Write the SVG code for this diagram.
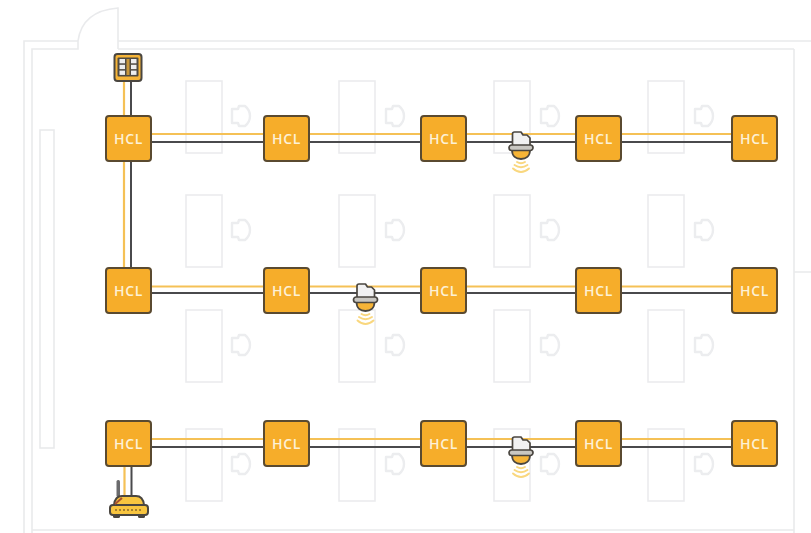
<svg xmlns="http://www.w3.org/2000/svg" width="811" height="533" viewBox="0 0 811 533">
<defs>
<style>
.wall{fill:none;stroke:#e9eaec;stroke-width:1.6}
.desk{fill:#fff;fill-opacity:.6;stroke:#ebecee;stroke-width:1.6}
.chair{fill:none;stroke:#ecedef;stroke-width:2.4;stroke-linejoin:round}
.y{fill:none;stroke:#f5c156;stroke-width:2.2}
.d{fill:none;stroke:#4a4a4c;stroke-width:2}
.box{fill:#f6ad2a;stroke:#5a4a30;stroke-width:2}
.lbl{font-family:"Open Sans","Liberation Sans",sans-serif;font-size:14px;font-weight:600;letter-spacing:.6px;fill:#fdf1d6;text-anchor:middle}
.wave{fill:none;stroke:#f9d77e;stroke-width:1.9;stroke-linecap:round}
.ol{stroke:#4a4640;stroke-width:2;stroke-linejoin:round}
</style>
<g id="chair"><path class="chair" d="M2 5H8L9 2H15Q20 6 20 12Q20 18 15 22H9L8 19H2Z"/></g>
<g id="sensor">
<path d="M-8.500 -3V-15Q-8.500 -17 -6.500 -17H0L2 -14H6L9 -11V-3Z" fill="#f1f1f2" stroke="#4a4640" stroke-width="1.700" stroke-linejoin="round"/>
<path d="M-9 1C-9 7 -5 10 0 10C5 10 9 7 9 1Z" fill="#f6b437" stroke="#4a4640" stroke-width="1.800"/>
<rect x="-12" y="-4" width="24" height="5.500" rx="2.700" fill="#c9c7c2" stroke="#4a4640" stroke-width="1.700"/>
<path class="wave" d="M-4 13Q0 15.500 4 13M-6.500 16Q0 20.500 6.500 16M-8 19.500Q0 26.500 8 19.500"/>
</g>
</defs>
<rect width="811" height="533" fill="#fff"/>
<g id="plan">
<path class="wall" d="M78 41H24V533M32 533V49H78V41"/>
<path class="wall" d="M118 41H811M118 49H794M32 530H794M794 49V533M794 272H811"/>
<path class="wall" d="M78 41Q82 11 118 8V49"/>
<rect class="wall" x="40" y="130" width="14" height="318"/>
<rect class="desk" x="186" y="81" width="36" height="72"/><rect class="desk" x="339" y="81" width="36" height="72"/><rect class="desk" x="494" y="81" width="36" height="72"/><rect class="desk" x="648" y="81" width="36" height="72"/>
<rect class="desk" x="186" y="195" width="36" height="72"/><rect class="desk" x="339" y="195" width="36" height="72"/><rect class="desk" x="494" y="195" width="36" height="72"/><rect class="desk" x="648" y="195" width="36" height="72"/>
<rect class="desk" x="186" y="310" width="36" height="72"/><rect class="desk" x="339" y="310" width="36" height="72"/><rect class="desk" x="494" y="310" width="36" height="72"/><rect class="desk" x="648" y="310" width="36" height="72"/>
<rect class="desk" x="186" y="429" width="36" height="72"/><rect class="desk" x="339" y="429" width="36" height="72"/><rect class="desk" x="494" y="429" width="36" height="72"/><rect class="desk" x="648" y="429" width="36" height="72"/>
<use href="#chair" x="230" y="104"/><use href="#chair" x="384" y="104"/><use href="#chair" x="539" y="104"/><use href="#chair" x="693" y="104"/>
<use href="#chair" x="230" y="218"/><use href="#chair" x="384" y="218"/><use href="#chair" x="539" y="218"/><use href="#chair" x="693" y="218"/>
<use href="#chair" x="230" y="333"/><use href="#chair" x="384" y="333"/><use href="#chair" x="539" y="333"/><use href="#chair" x="693" y="333"/>
<use href="#chair" x="230" y="452"/><use href="#chair" x="384" y="452"/><use href="#chair" x="539" y="452"/><use href="#chair" x="693" y="452"/>
</g>
<g id="connectors">
<path class="y" d="M124 80V116M124 161V267M124.500 466V498"/>
<path class="d" d="M131 80V116M131 161V267M131.500 466V498"/>
<path class="y" d="M151 134H732M151 286.500H732M151 439H732"/>
<path class="d" d="M151 142H732M151 293H732M151 447H732"/>
</g>
<g id="hcl-1-1"><rect class="box" x="106" y="116" width="45" height="45" rx="3"/><text class="lbl" x="128.500" y="143.500">HCL</text></g>
<g id="hcl-1-2"><rect class="box" x="264" y="116" width="45" height="45" rx="3"/><text class="lbl" x="286.500" y="143.500">HCL</text></g>
<g id="hcl-1-3"><rect class="box" x="421" y="116" width="45" height="45" rx="3"/><text class="lbl" x="443.500" y="143.500">HCL</text></g>
<g id="hcl-1-4"><rect class="box" x="576" y="116" width="45" height="45" rx="3"/><text class="lbl" x="598.500" y="143.500">HCL</text></g>
<g id="hcl-1-5"><rect class="box" x="732" y="116" width="45" height="45" rx="3"/><text class="lbl" x="754.500" y="143.500">HCL</text></g>
<g id="hcl-2-1"><rect class="box" x="106" y="268" width="45" height="45" rx="3"/><text class="lbl" x="128.500" y="295.500">HCL</text></g>
<g id="hcl-2-2"><rect class="box" x="264" y="268" width="45" height="45" rx="3"/><text class="lbl" x="286.500" y="295.500">HCL</text></g>
<g id="hcl-2-3"><rect class="box" x="421" y="268" width="45" height="45" rx="3"/><text class="lbl" x="443.500" y="295.500">HCL</text></g>
<g id="hcl-2-4"><rect class="box" x="576" y="268" width="45" height="45" rx="3"/><text class="lbl" x="598.500" y="295.500">HCL</text></g>
<g id="hcl-2-5"><rect class="box" x="732" y="268" width="45" height="45" rx="3"/><text class="lbl" x="754.500" y="295.500">HCL</text></g>
<g id="hcl-3-1"><rect class="box" x="106" y="421" width="45" height="45" rx="3"/><text class="lbl" x="128.500" y="448.500">HCL</text></g>
<g id="hcl-3-2"><rect class="box" x="264" y="421" width="45" height="45" rx="3"/><text class="lbl" x="286.500" y="448.500">HCL</text></g>
<g id="hcl-3-3"><rect class="box" x="421" y="421" width="45" height="45" rx="3"/><text class="lbl" x="443.500" y="448.500">HCL</text></g>
<g id="hcl-3-4"><rect class="box" x="576" y="421" width="45" height="45" rx="3"/><text class="lbl" x="598.500" y="448.500">HCL</text></g>
<g id="hcl-3-5"><rect class="box" x="732" y="421" width="45" height="45" rx="3"/><text class="lbl" x="754.500" y="448.500">HCL</text></g>
<g id="sensor-1"><use href="#sensor" x="521" y="149"/></g>
<g id="sensor-2"><use href="#sensor" x="365.500" y="301"/></g>
<g id="sensor-3"><use href="#sensor" x="521" y="454"/></g>
<g id="panel">
<rect x="114.500" y="54" width="27" height="27" rx="3" fill="#f6b437" stroke="#4a4640" stroke-width="2"/>
<rect x="117.500" y="57.500" width="21" height="19" rx="1" fill="#4f4a42"/>
<rect x="119.500" y="59" width="5.500" height="4.300" fill="#eeeeee"/><rect x="131" y="59" width="5.500" height="4.300" fill="#eeeeee"/>
<rect x="119.500" y="64.800" width="5.500" height="4.300" fill="#eeeeee"/><rect x="131" y="64.800" width="5.500" height="4.300" fill="#eeeeee"/>
<rect x="119.500" y="70.600" width="5.500" height="4.300" fill="#eeeeee"/><rect x="131" y="70.600" width="5.500" height="4.300" fill="#eeeeee"/>
<rect x="126.500" y="59" width="3" height="16" fill="#c9973a"/>
</g>
<g id="router">
<rect x="116.500" y="480" width="3.500" height="17" rx="1.500" fill="#6a6a6c"/>
<rect x="113" y="513" width="7" height="5" rx="1.500" fill="#4a4640"/><rect x="138" y="513" width="7" height="5" rx="1.500" fill="#4a4640"/>
<path class="ol" d="M114 505Q115 496 122 496H136Q143 496 144 505Z" fill="#f8c53f"/>
<rect class="ol" x="110" y="505" width="38" height="10" rx="3" fill="#f8c53f"/>
<path d="M115 510H143" stroke="#8a6a2a" stroke-width="1.600" stroke-dasharray="2 2"/>
<path d="M115 504L122 498" stroke="#a84f30" stroke-width="2"/>
</g>
</svg>
